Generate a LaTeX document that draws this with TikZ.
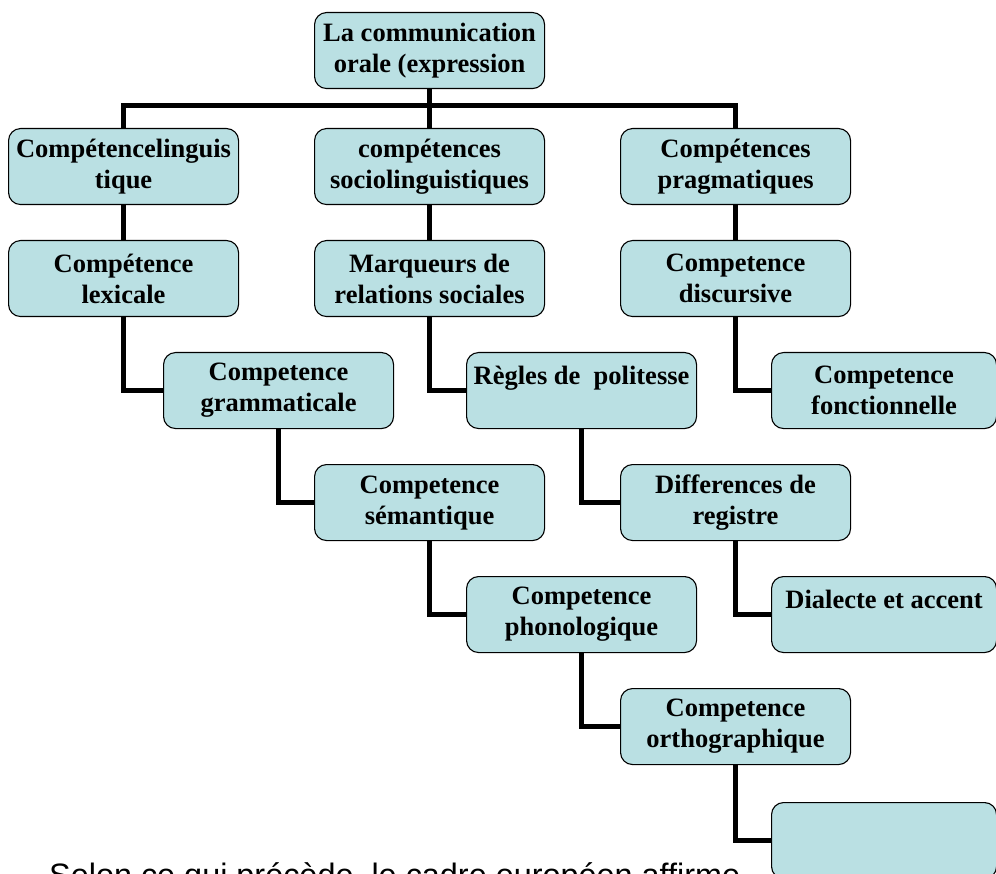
\documentclass[tikz,border=0pt]{standalone}
\usepackage{fontspec}
\setmainfont{Liberation Serif}
\newfontfamily\arialfont{Liberation Sans}
\usetikzlibrary{positioning}
\definecolor{boxfill}{RGB}{186,224,227}

\begin{document}
\begin{tikzpicture}[x=1pt,y=-1pt,
	box/.style={draw,fill=boxfill,rounded corners=12pt,line width=1.1pt,anchor=north west,minimum width=230pt,minimum height=76pt,inner sep=0pt,align=center,font=\fontsize{26.5}{31}\selectfont\bfseries},
	narrowbox/.style={box,minimum width=225pt},
	link/.style={draw,line width=5pt}]
		\clip (0,0) rectangle (996,874);
		\node[box] (root) at (314,12) {La communication\\orale (expression};
		% premier niveau
		\node[box] (ling) at (8,128) {Compétencelinguis\\tique};
		\node[box] (socio) at (314,128) {compétences\\sociolinguistiques};
		\node[box] (prag) at (620,128) {Compétences\\pragmatiques};
		% branche linguistique
		\node[box] (lex) at (8,240) {Compétence\\lexicale};
		\node[box] (gram) at (163,352) {Competence\\grammaticale};
		\node[box] (sem) at (314,464) {Competence\\sémantique};
		\node[box] (phon) at (466,576) {Competence\\phonologique};
		\node[box] (orth) at (620,688) {Competence\\orthographique};
		\node[narrowbox] (vide) at (771,802) {};
		% branche sociolinguistique
		\node[box] (marq) at (314,240) {Marqueurs de\\relations sociales};
		\node[box] (polit) at (466,352) {Règles de\ \ politesse\\\mbox{}};
		\node[box] (regis) at (620,464) {Differences de\\registre};
		\node[narrowbox] (dial) at (771,576) {Dialecte et accent\\\mbox{}};
		% branche pragmatique
		\node[box] (disc) at (620,240) {Competence\\discursive};
		\node[narrowbox] (fonc) at (771,352) {Competence\\fonctionnelle};
		\coordinate (bar) at (429,106);
		\draw[link] (root.south) -- (socio.north);
		\draw[link] (ling.north) |- (bar) -| (prag.north);
		\draw[link] (ling.south) -- (lex.north);
		\draw[link] (lex.south) |- (gram.west);
		\draw[link] (gram.south) |- (sem.west);
		\draw[link] (sem.south) |- (phon.west);
		\draw[link] (phon.south) |- (orth.west);
		\draw[link] (orth.south) |- (vide.west);
		\draw[link] (socio.south) -- (marq.north);
		\draw[link] (marq.south) |- (polit.west);
		\draw[link] (polit.south) |- (regis.west);
		\draw[link] (regis.south) |- (dial.west);
		\draw[link] (prag.south) -- (disc.north);
		\draw[link] (disc.south) |- (fonc.west);
		\node[anchor=base west,inner sep=0pt,font=\arialfont\fontsize{32.4}{38}\selectfont] (note) at (49,886) {Selon ce qui précède, le cadre européen affirme};
\end{tikzpicture}
\end{document}
